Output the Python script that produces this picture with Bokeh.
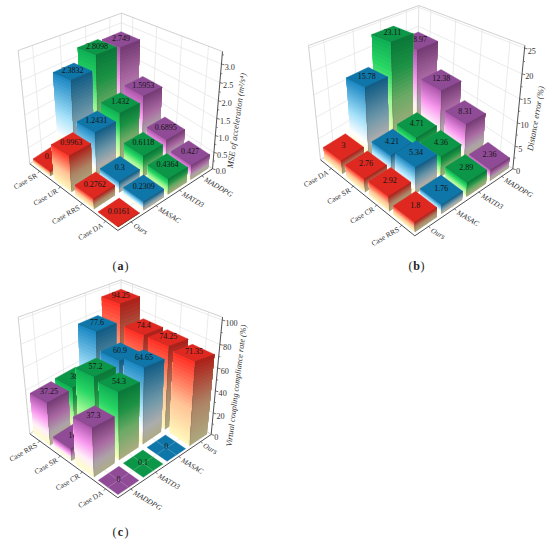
from bokeh.plotting import figure
from bokeh.layouts import column, row
from bokeh.embed import file_html
from bokeh.resources import INLINE
from bokeh.core.properties import value as V
import math

# ---- data ----
cases_a = ["Case SR", "Case UR", "Case RRS", "Case DA"]
series_a = ["Ours", "MASAC", "MATD3", "MADDPG"]
ours_a = [0.16, 0.9963, 0.2762, 0.0161]
masac_a = [2.3832, 1.2431, 0.3, 0.2309]
matd3_a = [2.8098, 1.432, 0.6118, 0.4364]
maddpg_a = [2.749, 1.5953, 0.6895, 0.427]

cases_b = ["Case DA", "Case SR", "Case CR", "Case RRS"]
series_b = ["Ours", "MASAC", "MATD3", "MADDPG"]
ours_b = [3, 2.76, 2.92, 1.8]
masac_b = [15.78, 4.21, 5.34, 1.76]
matd3_b = [23.11, 4.71, 4.36, 2.89]
maddpg_b = [18.97, 12.38, 8.31, 2.36]

cases_c = ["Case RRS", "Case SR", "Case CR", "Case DA"]
series_c = ["MADDPG", "MATD3", "MASAC", "Ours"]
maddpg_c = [37.25, 10, 37.3, 0]
matd3_c = [38, 57.2, 54.3, 0.1]
masac_c = [77.6, 60.9, 64.65, 0]
ours_c = [94.25, 74.4, 74.25, 71.35]

ticks_a = ["0.0", "0.5", "1.0", "1.5", "2.0", "2.5", "3.0"]
ticks_b = ["0", "5", "10", "15", "20", "25"]
ticks_c = ["0", "20", "40", "60", "80", "100"]

PAL = {
    "Ours": dict(top=(222, 40, 32), stops=[(0, (255, 250, 190)), (.45, (255, 195, 150)), (1, (255, 45, 35))]),
    "MASAC": dict(top=(14, 118, 168), stops=[(0, (255, 252, 195)), (.2, (255, 255, 255)), (.5, (165, 225, 250)), (1, (25, 135, 195))]),
    "MATD3": dict(top=(12, 150, 72), stops=[(0, (255, 255, 190)), (.4, (160, 250, 150)), (.72, (40, 215, 100)), (1, (15, 175, 85))]),
    "MADDPG": dict(top=(143, 75, 150), stops=[(0, (255, 255, 200)), (.28, (255, 240, 250)), (.6, (250, 155, 240)), (1, (170, 85, 170))]),
}
SHADE = 0.68
K_FLOOR = 0.14
K_UP = 0.10
BAR = 0.82
BANDS = 24
FONT = "Liberation Serif"


def cmap(stops, t):
    for (a, ca), (b, cb) in zip(stops, stops[1:]):
        if t <= b:
            f = (t - a) / (b - a)
            return tuple(ca[i] + (cb[i] - ca[i]) * f for i in range(3))
    return stops[-1][1]


def hexc(c, s=1.0):
    return "#%02x%02x%02x" % tuple(int(max(0, min(255, x * s))) for x in c)


def make_projector(cn, dx, dy):
    def P(u, v, h):
        tot_x = tot_y = tot_w = 0.0
        for uu, vv, hh, key in [(0, 0, 0, "L"), (1, 0, 0, "F"), (0, 1, 0, "B"), (1, 1, 0, "R"),
                                (0, 0, 1, "Lt"), (1, 0, 1, "Ft"), (0, 1, 1, "Bt"), (1, 1, 1, "Rt")]:
            b = (u if uu else 1 - u) * (v if vv else 1 - v) * (h if hh else 1 - h)
            w = b * (1 + K_FLOOR * ((1 - uu) + vv) + K_UP * (1 - hh))
            tot_x += w * cn[key][0]
            tot_y += w * cn[key][1]
            tot_w += w
        return tot_x / tot_w / 3 + dx, tot_y / tot_w / 3 + dy
    return P


def panel(x0, x1, y0, y1, cases, series, vals, cn, dx, dy, zmax, ticks, minor, fmt, title, tpos, tang, tsize, lab, labpos):
    p = figure(width=x1 - x0, height=y1 - y0, x_range=(x0, x1), y_range=(y1, y0),
               output_backend="svg", toolbar_location=None, min_border=0)
    p.axis.visible = False
    p.grid.visible = False
    p.outline_line_color = None
    P = make_projector(cn, dx, dy)

    def seg(pts, color, width, alpha=1.0):
        xs, ys = zip(*pts)
        p.line(list(xs), list(ys), line_color=color, line_width=width, line_alpha=alpha)

    n = len(cases)
    grid = "#e2e2e2"
    for t in ticks:
        h = float(t) / zmax
        if h == 0:
            continue
        seg([P(0, 0, h), P(0, 1, h), P(1, 1, h)], grid, 0.7)
    for i in range(n):
        c = (i + .5) / n
        seg([P(c, 1, 0), P(c, 1, 1)], grid, 0.7)
        seg([P(0, c, 0), P(0, c, 1)], grid, 0.7)
        seg([P(c, 0, 0), P(c, 1, 0)], grid, 0.7)
        seg([P(0, c, 0), P(1, c, 0)], grid, 0.7)
    seg([P(0, 0, 0), P(0, 0, 1), P(0, 1, 1), P(1, 1, 1)], "#c4c4c4", 0.8)
    seg([P(0, 0, 0), P(0, 1, 0), P(1, 1, 0)], "#c4c4c4", 0.8)
    seg([P(0, 1, 0), P(0, 1, 1)], "#d4d4d4", 0.7)

    half = BAR / n / 2
    order = sorted(((i, j) for i in range(n) for j in range(n)), key=lambda t: t[0] - t[1])
    for i, j in order:
        val = vals[j][i]
        pal = PAL[series[j]]
        uc, vc = (i + .5) / n, (j + .5) / n
        u0, u1, v0, v1 = uc - half, uc + half, vc - half, vc + half
        H = val / zmax
        if H > 0.002:
            for (a, c, shade) in [((u0, v0), (u1, v0), 1.0), ((u1, v0), (u1, v1), SHADE)]:
                xs, ys, cols = [], [], []
                for b in range(BANDS):
                    h0 = H * b / BANDS
                    col = cmap(pal["stops"], (b + .5) / BANDS)
                    q = [P(a[0], a[1], h0), P(c[0], c[1], h0), P(c[0], c[1], H), P(a[0], a[1], H)]
                    xs.append([t[0] for t in q])
                    ys.append([t[1] for t in q])
                    cols.append(hexc(col, shade))
                p.patches(xs, ys, fill_color=cols, line_color=None)
        q = [P(u0, v0, H), P(u1, v0, H), P(u1, v1, H), P(u0, v1, H)]
        top = hexc(pal["top"])
        p.patch([t[0] for t in q], [t[1] for t in q], fill_color=top, line_color=top, line_width=0.4)
        if H <= 0.002:
            seg([P(uc, v0, 0), P(uc, v1, 0)], "#ffffff", 0.6, 0.35)
            seg([P(u0, vc, 0), P(u1, vc, 0)], "#ffffff", 0.6, 0.35)
        else:
            seg([P(u0, v0, H), P(u1, v0, H), P(u1, v1, H)], "#303030", 0.35, 0.45)
            seg([P(u1, v0, H), P(u1, v0, 0)], "#303030", 0.35, 0.4)
        lx, ly = P(uc, vc, H)
        p.text([lx], [ly - 1.5], text=[fmt(val)], text_font=V(FONT), text_font_size="8px",
               text_color="#151515", text_align="center", text_baseline="middle")

    ax = "#505050"
    seg([P(0, 0, 0), P(1, 0, 0), P(1, 1, 0)], ax, 1.0)
    seg([P(1, 1, 0), P(1, 1, 1)], ax, 1.0)
    for i, name in enumerate(cases):
        x, y = P((i + .5) / n, 0, 0)
        seg([(x, y), (x - 2, y + 1.6)], ax, 0.8)
        p.text([x - 3.2], [y + 3.4], text=[name], text_font=V(FONT), text_font_size="7.5px", text_color="#333333",
               text_align="right", text_baseline="middle", angle=math.radians(30))
    for j, name in enumerate(series):
        x, y = P(1, (j + .5) / n, 0)
        seg([(x, y), (x + 2, y + 1.4)], ax, 0.8)
        p.text([x + 3.2], [y + 3.0], text=[name], text_font=V(FONT), text_font_style="italic", text_font_size="7.5px",
               text_color="#333333", text_align="left", text_baseline="middle", angle=math.radians(-31))
    for t in ticks:
        x, y = P(1, 1, float(t) / zmax)
        seg([(x, y), (x + 3, y + .8)], ax, 0.8)
        p.text([x + 3.2], [y + 2.5], text=[t], text_font=V(FONT), text_font_size="8.2px", text_color="#333333",
               text_align="left", text_baseline="middle")
    for z in minor:
        x, y = P(1, 1, z / zmax)
        seg([(x, y), (x + 1.7, y + .5)], ax, 0.7)
    p.text([tpos[0]], [tpos[1]], text=[title], text_font=V(FONT), text_font_style="italic", text_font_size=tsize,
           text_color="#333333", text_align="center", text_baseline="middle", angle=math.radians(tang))
    p.text([labpos[0] - 4], [labpos[1]], text=["("], text_font=V(FONT), text_font_size="12px", text_color="#222222",
           text_align="right", text_baseline="middle")
    p.text([labpos[0]], [labpos[1]], text=[lab], text_font=V(FONT), text_font_style="bold", text_font_size="12px",
           text_color="#222222", text_align="center", text_baseline="middle")
    p.text([labpos[0] + 4], [labpos[1]], text=[")"], text_font=V(FONT), text_font_size="12px", text_color="#222222",
           text_align="left", text_baseline="middle")
    return p


fmt = lambda v: ("%g" % v)
CN_A = dict(L=(88, 490), Lt=(53, 150), B=(358, 310), Bt=(363, 38), R=(636, 505), Rt=(666, 153), F=(352, 690), Ft=(345, 230))
CN_B = dict(L=(120, 478), Lt=(84, 135), B=(410, 288), Bt=(415, 15), R=(697, 505), Rt=(733, 135), F=(403, 706), Ft=(395, 225))
CN_C = dict(L=(88, 490), Lt=(53, 140), B=(358, 308), Bt=(362, 28), R=(632, 492), Rt=(666, 140), F=(352, 682), Ft=(345, 212))

pa = panel(0, 275, 0, 273, cases_a, series_a, [ours_a, masac_a, matd3_a, maddpg_a], CN_A, 0, 0,
           3.33, ticks_a, [.25, .75, 1.25, 1.75, 2.25, 2.75, 3.25], fmt,
           "MSE of acceleration (m\u00b2/s\u2074)", (236, 120), 82, "8.6px", "a", (120, 265))
pb = panel(275, 550, 0, 273, cases_b, series_b, [ours_b, masac_b, matd3_b, maddpg_b], CN_B, 280, 0,
           25.5, ticks_b, [2.5, 7.5, 12.5, 17.5, 22.5], fmt,
           "Distance error (%)", (535, 118), 80, "8.6px", "b", (416, 265))
pc = panel(0, 275, 273, 541, cases_c, series_c, [maddpg_c, matd3_c, masac_c, ours_c], CN_C, 0, 270,
           102.3, ticks_c, [10, 30, 50, 70, 90], fmt,
           "Virtual coupling compliance rate (%)", (236, 385), 83, "8.2px", "c", (120, 531))

root = column(row(pa, pb, spacing=0), pc, spacing=0)
open("out.html", "w").write(file_html(root, INLINE))
